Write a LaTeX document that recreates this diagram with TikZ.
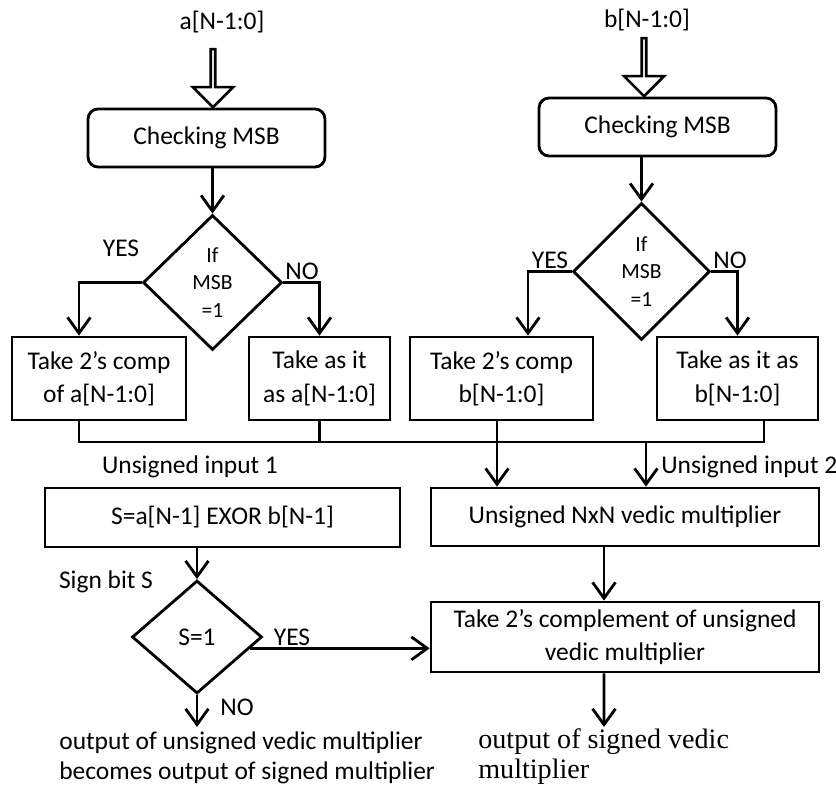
\documentclass[tikz,border=0pt]{standalone}
\usepackage{fontspec}
\setmainfont{Carlito}
\newfontfamily\outserif{Liberation Serif}
\usetikzlibrary{shapes.geometric}
\usetikzlibrary{shapes.arrows}
\usetikzlibrary{arrows.meta}
\usetikzlibrary{calc}

\tikzset{
	procbox/.style={draw, line width=1.6pt, align=center, inner sep=2pt, font=\fontsize{14.5}{19}\selectfont},
	msbbox/.style={procbox, rounded corners=0.2cm, minimum width=4.74cm, minimum height=1.16cm},
	decide/.style={diamond, draw, line width=1.6pt, align=center, inner sep=0pt, font=\fontsize{14.5}{17}\selectfont},
	lbl/.style={inner sep=0pt, font=\fontsize{14.5}{17}\selectfont},
	flow/.style={line width=1.6pt, -{Straight Barb[length=9pt, width=13pt]}},
	wire/.style={line width=1.6pt},
	hollow/.style={single arrow, draw, line width=1.5pt, shape border rotate=270, minimum height=1.16cm, minimum width=0.8cm, single arrow head extend=0.21cm, inner sep=0pt}
}

\begin{document}
\begin{tikzpicture}[x=0.02cm, y=-0.02cm]
		\useasboundingbox (0,0) rectangle (836,788);

		% sign check of a
		\node[lbl] (ina) at (222,22) {a[N-1:0]};
		\node[hollow, anchor=tip] (arra) at (213,109) {};
		\node[msbbox] (chka) at (206.5,138) {Checking MSB};
		\node[decide, minimum width=2.78cm, minimum height=2.7cm, font=\fontsize{12.3}{15.6}\selectfont] (ifa) at (212.5,282.5) {If\\MSB\\=1};
		\node[lbl] (yesa) at (121,248) {YES};
		\node[lbl] (noa) at (302,271) {NO};
		\node[procbox, minimum width=3.48cm, minimum height=1.66cm] (tca) at (99,378.5) {Take 2’s comp\\of a[N-1:0]};
		\node[procbox, minimum width=2.82cm, minimum height=1.66cm] (asa) at (319.5,378.5) {Take as it\\as a[N-1:0]};

		% sign check of b
		\node[lbl] (inb) at (647,20) {b[N-1:0]};
		\node[hollow, anchor=tip] (arrb) at (644,98) {};
		\node[msbbox] (chkb) at (657.5,127) {Checking MSB};
		\node[decide, minimum width=2.74cm, minimum height=2.74cm, font=\fontsize{12.3}{15.6}\selectfont] (ifb) at (641.5,271.5) {If\\MSB\\=1};
		\node[lbl] (yesb) at (550,260) {YES};
		\node[lbl] (nob) at (730,260) {NO};
		\node[procbox, minimum width=3.66cm, minimum height=1.66cm] (tcb) at (501.5,378.5) {Take 2’s comp\\b[N-1:0]};
		\node[procbox, minimum width=3.22cm, minimum height=1.66cm] (asb) at (737.5,378.5) {Take as it as\\b[N-1:0]};

		% multiplier
		\node[lbl] (ua) at (190,467) {Unsigned input 1};
		\node[lbl, anchor=west] (ub) at (661,467) {Unsigned input 2};
		\node[procbox, minimum width=7.1cm, minimum height=1.18cm] (xor) at (222.5,517.5) {S=a[N-1] EXOR b[N-1]};
		\node[procbox, minimum width=7.76cm, minimum height=1.16cm] (mul) at (625,517) {Unsigned NxN vedic multiplier};
		\node[lbl] (sgn) at (106,582) {Sign bit S};
		\node[decide, minimum width=2.6cm, minimum height=2.26cm] (ifs) at (197,637) {S=1};
		\node[lbl] (yess) at (292,637) {YES};
		\node[lbl] (nos) at (237,707) {NO};
		\node[procbox, minimum width=7.76cm, minimum height=1.4cm] (cpl) at (625,637) {Take 2’s complement of unsigned\\vedic multiplier};
		\node[lbl, anchor=west, align=left] (resu) at (59,758) {output of unsigned vedic multiplier\\becomes output of signed multiplier};
		\node[lbl, anchor=west, align=left, font=\outserif\fontsize{16}{17}\selectfont] (ress) at (478,757) {output of signed vedic\\multiplier};

		\coordinate (ja) at (79,442);
		\coordinate (jb) at (497,442);
		\coordinate (jc) at (646,442);
		\coordinate (jd) at (764,442);
		\coordinate (outa) at (197,727);
		\coordinate (outb) at (604,727);

		% checks
		\path[flow] (ifa.north |- chka.south) edge (ifa.north);
		\path[flow] (ifb.north |- chkb.south) edge (ifb.north);
		\draw[flow] (ifa.west) -| (tca.north -| ja);
		\draw[flow] (ifa.east) -| (asa.north);
		\draw[flow] (ifb.west) -| ([xshift=0.53cm]tcb.north);
		\draw[flow] (ifb.east) -| (asb.north);

		% unsigned inputs
		\draw[wire] (tca.south -| ja) -- (ja) -- (jd) -- (asb.south -| jd);
		\draw[wire] (asa.south) -- (asa.south |- ja);
		\draw[flow] (tcb.south -| jb) -- (jb |- mul.north);
		\draw[flow] (jc) -- (jc |- mul.north);

		% sign of product
		\path[flow] (ifs.north |- xor.south) edge (ifs.north);
		\path[flow] ([xshift=-0.42cm]mul.south) edge ([xshift=-0.42cm]cpl.north);
		\draw[flow] (ifs.-12) -- (ifs.-12 -| cpl.west);
		\draw[flow] (ifs.south) -- (outa);
		\draw[flow] ([xshift=-0.42cm]cpl.south) -- (outb);

	\end{tikzpicture}
\end{document}
